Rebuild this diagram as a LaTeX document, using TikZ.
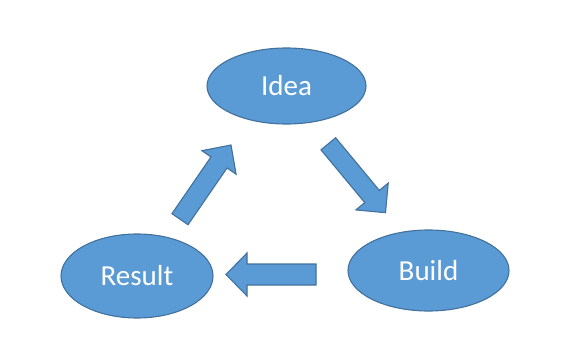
\documentclass[tikz,border=0pt]{standalone}
\usepackage{fontspec}
\setmainfont{Carlito}
\usetikzlibrary{shapes.geometric,calc}
\definecolor{boxfill}{HTML}{5B9BD5}
\definecolor{boxline}{HTML}{41719C}
\tikzset{
  blob/.style={ellipse, draw=boxline, fill=boxfill, line width=1.1pt, inner sep=0pt,
    text=white, font=\fontsize{29}{34}\selectfont},
  blockarrow/.style={draw=boxline, fill=boxfill, line width=1.1pt, line join=miter}
}
% #1 start, #2 end, #3 shaft width, #4 head width, #5 head length (pt)
\newcommand\fatarrow[5]{%
  \path[blockarrow] let \p1=($(#2)-(#1)$), \n1={atan2(\y1,\x1)}, \n2={veclen(\x1,\y1)} in
    ($(#1)+(\n1+90:#3/2)$) --
    ($(#1)+(\n1:\n2-#5)+(\n1+90:#3/2)$) --
    ($(#1)+(\n1:\n2-#5)+(\n1+90:#4/2)$) --
    (#2) --
    ($(#1)+(\n1:\n2-#5)+(\n1-90:#4/2)$) --
    ($(#1)+(\n1:\n2-#5)+(\n1-90:#3/2)$) --
    ($(#1)+(\n1-90:#3/2)$) -- cycle;}
\begin{document}
\begin{tikzpicture}[x=1pt,y=-1pt]
\useasboundingbox (0,0) rectangle (563,345);
\node[blob, minimum width=159pt, minimum height=76pt] (idea) at (286.5,86) {Idea};
\node[blob, minimum width=152pt, minimum height=84pt] (result) at (137,276) {Result};
\node[blob, minimum width=161pt, minimum height=81pt] (build) at (428.5,270.5) {Build};
\coordinate (a1s) at (180,219.2);
\coordinate (a1e) at (231,145);
\coordinate (a2s) at (328.3,143.8);
\coordinate (a2e) at (385.5,212.7);
\coordinate (a3s) at (316,274.5);
\coordinate (a3e) at (226,274.5);
\fatarrow{a1s}{a1e}{19.5pt}{41.5pt}{21pt}
\fatarrow{a2s}{a2e}{19pt}{42pt}{21pt}
\fatarrow{a3s}{a3e}{21pt}{43pt}{21pt}
\end{tikzpicture}
\end{document}
